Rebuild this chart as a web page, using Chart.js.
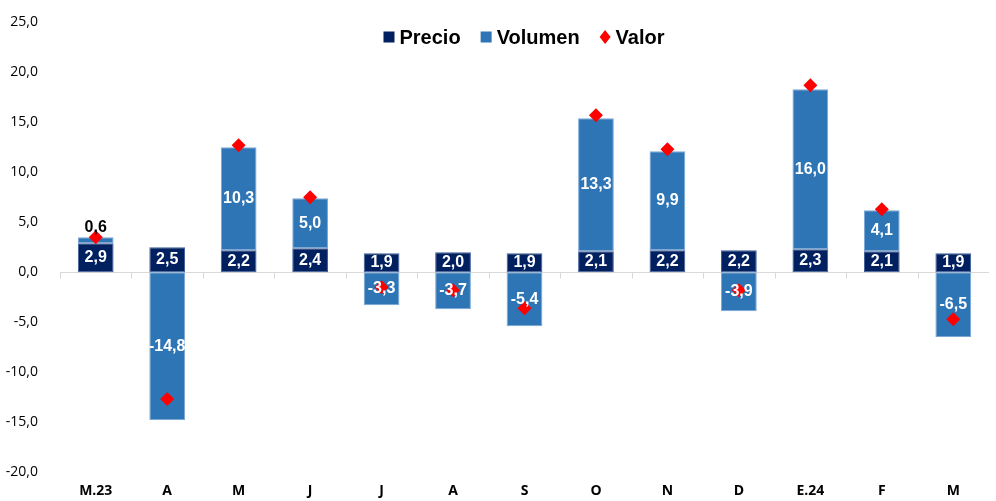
<!DOCTYPE html>
<html>
<head>
<meta charset="utf-8">
<script src="https://cdn.jsdelivr.net/npm/chart.js@4.4.1/dist/chart.umd.min.js"></script>
<style>
  html, body { margin: 0; padding: 0; background: #fff; }
  #wrap { width: 996px; height: 501px; position: relative; }
</style>
</head>
<body>
<div id="wrap"><canvas id="myChart"></canvas></div>
<script>
let meses = ["M.23", "A", "M", "J", "J", "A", "S", "O", "N", "D", "E.24", "F", "M"];
let precio = [2.9, 2.5, 2.2, 2.4, 1.9, 2.0, 1.9, 2.1, 2.2, 2.2, 2.3, 2.1, 1.9];
let volumen = [0.6, -14.8, 10.3, 5.0, -3.3, -3.7, -5.4, 13.3, 9.9, -3.9, 16.0, 4.1, -6.5];
let valor = [3.5, -12.7, 12.7, 7.5, -1.5, -1.8, -3.6, 15.7, 12.3, -1.8, 18.7, 6.3, -4.7];

const fmt = v => v.toFixed(1).replace(".", ",");

// eje del cero con marcas entre categorias
const lineaCero = {
  id: "lineaCero",
  beforeDatasetsDraw(chart) {
    const ctx = chart.ctx;
    const x = chart.scales.x, y = chart.scales.y;
    const y0 = Math.round(y.getPixelForValue(0)) + 0.5;
    ctx.save();
    ctx.strokeStyle = "#d9d9d9";
    ctx.lineWidth = 1;
    ctx.beginPath();
    ctx.moveTo(chart.chartArea.left, y0);
    ctx.lineTo(chart.chartArea.right, y0);
    const paso = x.getPixelForValue(1) - x.getPixelForValue(0);
    for (let i = 0; i < meses.length; i++) {
      const xb = Math.round(x.getPixelForValue(i) - paso / 2) + 0.5;
      ctx.moveTo(xb, y0);
      ctx.lineTo(xb, y0 + 6);
    }
    ctx.stroke();
    ctx.restore();
  }
};

// etiquetas de datos
const etiquetas = {
  id: "etiquetas",
  afterDatasetsDraw(chart) {
    const ctx = chart.ctx;
    ctx.save();
    ctx.font = "bold 16px 'Liberation Sans', Arial, sans-serif";
    ctx.textAlign = "center";
    ctx.textBaseline = "middle";
    [0, 1].forEach(d => {
      const meta = chart.getDatasetMeta(d);
      meta.data.forEach((bar, i) => {
        const v = chart.data.datasets[d].data[i];
        const cy = (bar.y + bar.base) / 2;
        if (Math.abs(bar.y - bar.base) < 14) {
          ctx.fillStyle = "#000";
          ctx.fillText(fmt(v), bar.x, bar.y - 10);
        } else {
          ctx.fillStyle = "#fff";
          ctx.fillText(fmt(v), bar.x, cy);
        }
      });
    });
    ctx.restore();
  }
};

// leyenda dibujada arriba, dentro del area del grafico
const leyenda = {
  id: "leyenda",
  afterDraw(chart) {
    const ctx = chart.ctx;
    const ds = chart.data.datasets;
    ctx.save();
    ctx.font = "bold 20px 'Liberation Sans', Arial, sans-serif";
    ctx.textBaseline = "middle";
    const caja = 11, hueco = 5, sep = 20;
    let total = 0;
    ds.forEach((d, i) => {
      total += caja + hueco + ctx.measureText(d.label).width + (i < ds.length - 1 ? sep : 0);
    });
    let xx = 524 - total / 2;
    const yy = 37;
    ds.forEach(d => {
      ctx.fillStyle = d.backgroundColor;
      if (d.type === "line") {
        ctx.beginPath();
        ctx.moveTo(xx + caja / 2, yy - 7);
        ctx.lineTo(xx + caja, yy);
        ctx.lineTo(xx + caja / 2, yy + 7);
        ctx.lineTo(xx, yy);
        ctx.closePath();
        ctx.fill();
      } else {
        ctx.fillRect(xx, yy - caja / 2, caja, caja);
      }
      xx += caja + hueco;
      ctx.fillStyle = "#000";
      ctx.fillText(d.label, xx, yy + 1);
      xx += ctx.measureText(d.label).width + sep;
    });
    ctx.restore();
  }
};

let grafico = new Chart(document.getElementById("myChart"), {
  data: {
    labels: meses,
    datasets: [
      {
        type: "bar", label: "Precio", data: precio,
        backgroundColor: "#002060", borderColor: "#3f5f9a", borderWidth: 1,
        borderSkipped: false, stack: "s", order: 2,
        barPercentage: 0.5, categoryPercentage: 1
      },
      {
        type: "bar", label: "Volumen", data: volumen,
        backgroundColor: "#2e75b6", borderColor: "#7aa7d6", borderWidth: 1,
        borderSkipped: false, stack: "s", order: 2,
        barPercentage: 0.5, categoryPercentage: 1
      },
      {
        type: "line", label: "Valor", data: valor, showLine: false,
        pointStyle: "rectRot", pointRadius: 7, pointHoverRadius: 7,
        backgroundColor: "#ff0000", borderColor: "#ff0000", borderWidth: 0, order: 1
      }
    ]
  },
  options: {
    responsive: true,
    maintainAspectRatio: false,
    animation: false,
    layout: { padding: { top: 18, right: 0, left: 0, bottom: 0 } },
    plugins: {
      tooltip: { enabled: false },
      legend: { display: false }
    },
    scales: {
      x: {
        stacked: true,
        grid: { display: false, drawTicks: false },
        border: { display: false },
        afterFit(scale) { scale.height = 29; },
        ticks: {
          color: "#000", padding: 11,
          font: { family: "'Open Sans', sans-serif", size: 14, weight: "bold" }
        }
      },
      y: {
        stacked: true,
        min: -20, max: 25,
        grid: { display: false },
        border: { display: false },
        afterFit(scale) { scale.width = 60; },
        ticks: {
          stepSize: 5, color: "#000", padding: 14,
          font: { family: "'Open Sans', sans-serif", size: 14 },
          callback: v => fmt(v)
        }
      }
    }
  },
  plugins: [lineaCero, etiquetas, leyenda]
});
</script>
</body>
</html>
